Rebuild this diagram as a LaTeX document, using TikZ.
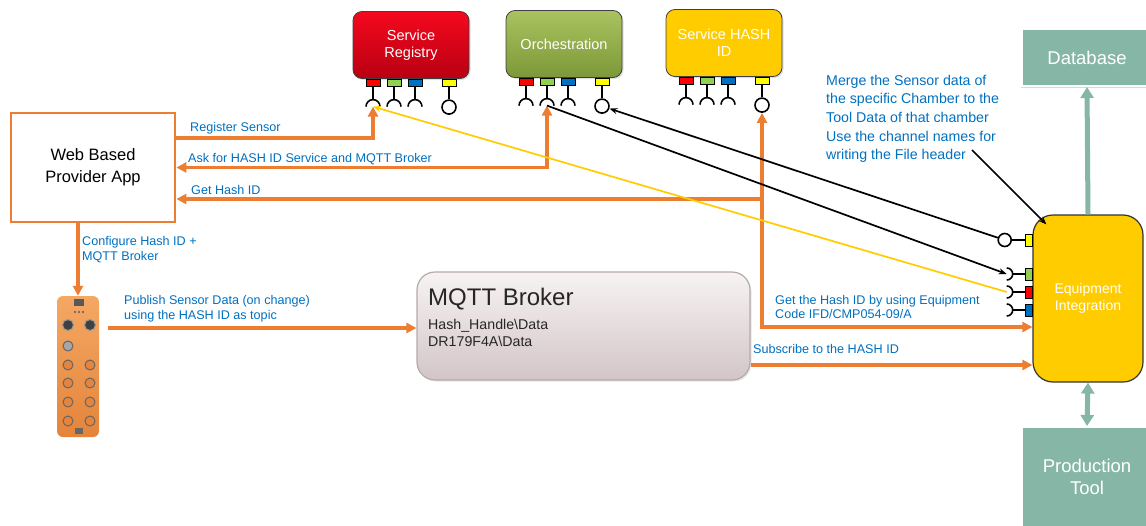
\documentclass[tikz,border=0pt]{standalone}
\usepackage{fontspec}
\setmainfont{Liberation Sans}
\usetikzlibrary{arrows.meta,shadows}

\definecolor{flowor}{HTML}{ED7D31}
\definecolor{labelblue}{HTML}{0070C0}
\definecolor{srtop}{HTML}{F5081E}
\definecolor{srbot}{HTML}{B80012}
\definecolor{ortop}{HTML}{AAC360}
\definecolor{orbot}{HTML}{7C9838}
\definecolor{hashyellow}{HTML}{FFCC00}
\definecolor{mqtop}{HTML}{F7F3F3}
\definecolor{mqbot}{HTML}{D3C5C7}
\definecolor{mqedge}{HTML}{B5A9AB}
\definecolor{dbteal}{HTML}{86B7A6}
\definecolor{hubtop}{HTML}{F4A864}
\definecolor{hubbot}{HTML}{E5843A}
\definecolor{portred}{HTML}{FF0000}
\definecolor{portgreen}{HTML}{92D050}
\definecolor{portblue}{HTML}{0070C0}
\definecolor{portyellow}{HTML}{FFFF00}

\begin{document}
\begin{tikzpicture}[x=1pt, y=1pt,
        flowtip/.tip={Triangle[length=10pt,width=10pt]},
        dbtip/.tip={Triangle[length=11pt,width=13pt]},
        wiretip/.tip={Stealth[length=8pt,width=6pt]},
        svcbox/.style={rounded corners=9, minimum width=116, minimum height=67,
            text=white, align=center, font=\fontsize{14.5}{17}\selectfont,
            draw=black!75, line width=0.8,
            drop shadow={opacity=0.25, shadow xshift=1.5pt, shadow yshift=-1.5pt}},
        dbbox/.style={fill=dbteal, draw=white, line width=2, text=white,
            minimum width=130, align=center, font=\fontsize{18.5}{22}\selectfont,
            drop shadow={opacity=0.3, shadow xshift=-1.5pt, shadow yshift=-1.5pt}},
        port/.style={draw=black, line width=0.7, minimum width=14, minimum height=7, inner sep=0},
        ball/.style={draw=black, circle, line width=1.6, minimum size=14, inner sep=0},
        socket/.style={line width=1.6},
        flow/.style={draw=flowor, line width=3.4, -{flowtip}},
        wire/.style={draw=black, line width=1.7, -{wiretip}},
        hashwire/.style={draw=hashyellow, line width=1.7, -{wiretip}},
        dbarrow/.style={draw=dbteal, line width=5, -{dbtip}},
        lbl/.style={text=labelblue, font=\fontsize{12.6}{14.8}\selectfont,
            inner sep=0, anchor=west, align=left}]

    \useasboundingbox (0,0) rectangle (1146,-525);

    \begin{scope}
        % Services
        \node[svcbox, top color=srtop, bottom color=srbot] (reg) at (411,-45) {Service\\Registry};
        \node[svcbox, top color=ortop, bottom color=orbot] (orch) at (564,-44) {Orchestration};
        \node[svcbox, fill=hashyellow] (hash) at (724,-43) {Service HASH\\ID};

        % Ports below each service
        \foreach \svc in {reg,orch,hash} {
            \foreach \c/\dx [count=\i] in {portred/-38, portgreen/-17, portblue/4, portyellow/38} {
                \node[port, fill=\c, anchor=north] (\svc-p\i) at ([xshift=\dx]\svc.south) {};
            }
            % sockets
            \foreach \i in {1,2,3} {
                \draw[socket] (\svc-p\i.south) -- ++(0,-13) coordinate (\svc-t\i);
                \draw[socket] ([xshift=-7,yshift=-7]\svc-t\i) arc (180:0:7);
                \coordinate (\svc-s\i) at ([yshift=-7]\svc-t\i);
            }
            % ball
            \node[ball] (\svc-ball) at ([yshift=-20.5]\svc-p4.south) {};
            \draw[socket] (\svc-p4) -- (\svc-ball);
        }
    \end{scope}

    \begin{scope}
        % Provider App
        \node[draw=flowor, line width=2.8, minimum width=164, minimum height=109,
            font=\fontsize{16.5}{22}\selectfont, align=center] (web) at (93,-167.5) {Web Based\\Provider App};

        % Sensor hub
        \node[rounded corners=6, minimum width=42, minimum height=141,
            top color=hubtop, bottom color=hubbot] (hub) at (78,-366.5) {};
        \fill[black!65] (74,-299) rectangle (84,-306);
        \fill[black!65] (75,-312) circle (1.2);
        \fill[black!65] (79,-312) circle (1.2);
        \fill[black!65] (83,-312) circle (1.2);
        \draw[fill=black!75, draw=black!40, line width=1] (68,-325) circle (5.5);
        \draw[fill=black!75, draw=black!40, line width=1] (90,-325) circle (5.5);
        \draw[fill=black!35, draw=black!60, line width=1] (68,-346) circle (5);
        \draw[fill=hubbot, draw=black!60, line width=1] (68,-365) circle (5);
        \draw[fill=hubbot, draw=black!60, line width=1] (90,-365) circle (5);
        \draw[fill=hubbot, draw=black!60, line width=1] (68,-383) circle (5);
        \draw[fill=hubbot, draw=black!60, line width=1] (90,-383) circle (5);
        \draw[fill=hubbot, draw=black!60, line width=1] (68,-402) circle (5);
        \draw[fill=hubbot, draw=black!60, line width=1] (90,-402) circle (5);
        \draw[fill=hubbot, draw=black!60, line width=1] (68,-421) circle (5);
        \draw[fill=hubbot, draw=black!60, line width=1] (90,-421) circle (5);
        \fill[black!60] (75,-428) rectangle (83,-434);

        % Broker
        \node[rounded corners=18, minimum width=333, minimum height=108,
            top color=mqtop, bottom color=mqbot, draw=mqedge, line width=1.2,
            drop shadow={opacity=0.2, shadow xshift=1.5pt, shadow yshift=-1.5pt}] (mqtt) at (583.5,-326) {};
        \node[anchor=west, inner sep=0, text=black!85, font=\fontsize{24}{28}\selectfont] (mqtitle) at (428,-299) {MQTT Broker};
        \node[anchor=west, inner sep=0, text=black!85, align=left, font=\fontsize{14.2}{17}\selectfont]
            (mqtopics) at (428,-332.5) {Hash\_Handle\textbackslash Data\\DR179F4A\textbackslash Data};
    \end{scope}

    \begin{scope}
        % Equipment Integration
        \node[rounded corners=20, minimum width=110, minimum height=167, fill=hashyellow,
            draw=black!80, line width=1.2, text=white, align=center,
            font=\fontsize{14}{17}\selectfont] (eq) at (1088,-298.5) {Equipment\\Integration};
        \foreach \c/\y [count=\i] in {portyellow/-240, portgreen/-274, portred/-292, portblue/-310} {
            \node[port, minimum width=7, minimum height=12, fill=\c, anchor=east] (eq-p\i) at (eq.west |- 0,\y) {};
        }
        \node[ball, minimum size=13] (eq-ball) at ([xshift=-20]eq-p1.west) {};
        \draw[socket] (eq-ball) -- (eq-p1);
        \foreach \i in {2,3,4} {
            \draw[socket] (eq-p\i.west) -- ++(-12,0) coordinate (eq-t\i);
            \draw[socket] ([xshift=-6,yshift=6]eq-t\i) arc (90:-90:6);
            \coordinate (eq-s\i) at ([xshift=-6]eq-t\i);
        }

        % Database and Production Tool
        \node[dbbox, minimum height=57] (db) at (1087,-57.5) {Database};
        \node[dbbox, minimum height=100] (prod) at (1087,-477) {Production\\Tool};
        \draw[dbarrow] (eq.north) -- (db.south);
        \draw[dbarrow, {dbtip}-{dbtip}] (eq.south) -- (prod.north);
    \end{scope}

    % Labels
    \node[lbl] (lreg) at (190,-128) {Register Sensor};
    \node[lbl] (lask) at (188,-159) {Ask for HASH ID Service and MQTT Broker};
    \node[lbl] (lget) at (191,-190) {Get Hash ID};
    \node[lbl] (lconf) at (82,-249.5) {Configure Hash ID +\\MQTT Broker};
    \node[lbl] (lpub) at (124,-308.5) {Publish Sensor Data (on change)\\using the HASH ID as topic};
    \node[lbl] (leqid) at (775,-307) {Get the Hash ID by using Equipment\\Code IFD/CMP054-09/A};
    \node[lbl] (lsub) at (753,-349) {Subscribe to the HASH ID};
    \node[lbl, font=\fontsize{14.2}{18.5}\selectfont] (merge) at (826,-98.5)
        {Merge the Sensor data of\\the specific Chamber to the\\Tool Data of that chamber};
    \node[lbl, font=\fontsize{14.2}{18}\selectfont] (chan) at (826,-147)
        {Use the channel names for\\writing the File header};

    % Orange flows
    \draw[flow] ([yshift=29.5]web.east) -| (reg-s1);
    \draw[flow, {flowtip}-{flowtip}] (web.east) -| (orch-s2);
    \coordinate (getturn) at (hash-ball |- 0,-327);
    \draw[flow, {flowtip}-{flowtip}] (hash-ball) -- (getturn) -- (getturn -| eq.west);
    \coordinate (getid) at ([yshift=-31.5]web.east);
    \draw[flow] (getid -| getturn) -- (getid);
    \draw[flow] (web.south -| hub.north) -- (hub.north);
    \coordinate (pubstart) at (108,-328);
    \draw[flow] (pubstart) -- (pubstart -| mqtt.west);
    \coordinate (subout) at ([yshift=-39]mqtt.east);
    \draw[flow] (subout) -- (subout -| eq.west);

    % Service wires
    \draw[wire] (eq-ball) -- (orch-ball);
    \draw[wire] (orch-s2) -- (eq-s2);
    \draw[hashwire] (eq-s3) -- (reg-s1);
    \coordinate (chanfoot) at (972,-150);
    \draw[wire] (chanfoot) -- ([xshift=14,yshift=-10]eq.north west);
\end{tikzpicture}
\end{document}
